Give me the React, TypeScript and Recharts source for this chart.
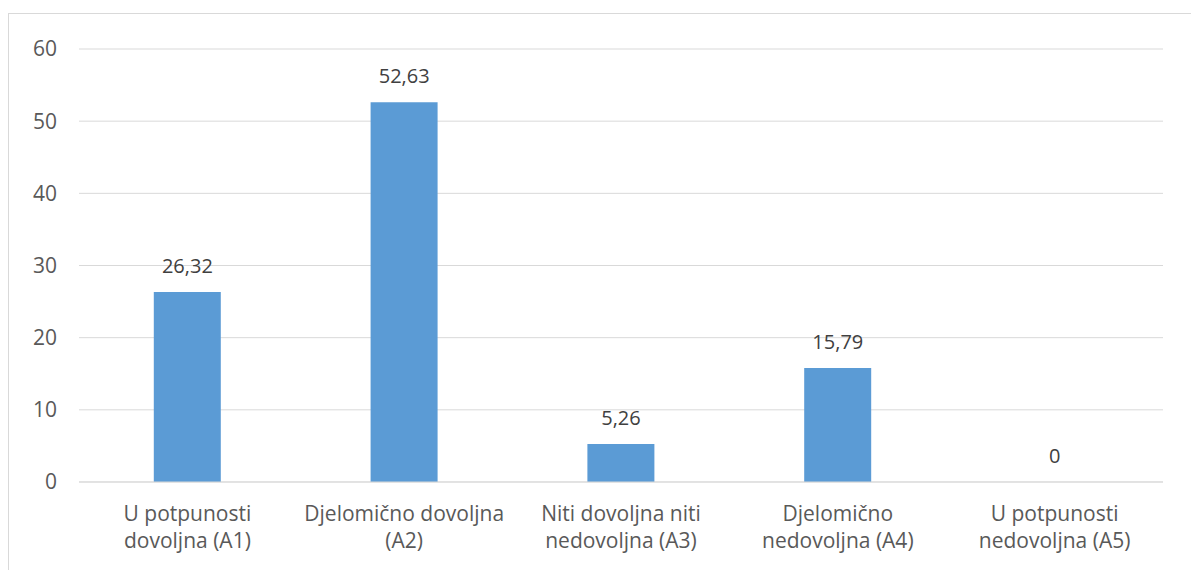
import { ComposedChart, Bar, Line, XAxis, YAxis, CartesianGrid } from "recharts";

// categories split into the two lines shown under each bar
const categories = [
  "U potpunosti|dovoljna (A1)",
  "Djelomično dovoljna|(A2)",
  "Niti dovoljna niti|nedovoljna (A3)",
  "Djelomično|nedovoljna (A4)",
  "U potpunosti|nedovoljna (A5)",
];
const values = [26.32, 52.63, 5.26, 15.79, 0];
const yTicks = [0, 10, 20, 30, 40, 50, 60];

const data = categories.map((c, i) => ({ name: c, value: values[i] }));

const FONT = "'Open Sans', sans-serif";
const TEXT = "#595959";
const GRID = "#d9d9d9";
const FS = 21;

function CategoryTick({ x, y, payload }: any) {
  const lines = String(payload.value).split("|");
  return (
    <text x={x} y={y} textAnchor="middle" fill={TEXT} fontSize={FS} fontFamily={FONT}>
      {lines.map((l, i) => (
        <tspan key={i} x={x} dy={i === 0 ? 31 : 27}>
          {l}
        </tspan>
      ))}
    </text>
  );
}

// value label above each bar (hung on an invisible line so the 0 shows too)
function ValueLabel(props: any) {
  const { x, y, value } = props;
  if (value == null) return null;
  return (
    <text
      x={x}
      y={Number(y) - 19}
      textAnchor="middle"
      fill="#404040"
      fontSize={20}
      fontFamily={FONT}
    >
      {String(value).replace(".", ",")}
    </text>
  );
}

export default function App() {
  return (
    <div style={{ position: "relative", width: 1191, height: 570, overflow: "hidden" }}>
      <style>{`body{margin:0;overflow:hidden}`}</style>
      <div
        style={{
          position: "absolute",
          left: 8,
          top: 13,
          width: 1200,
          height: 600,
          borderTop: `1px solid ${GRID}`,
          borderLeft: `1px solid ${GRID}`,
          background: "#fff",
        }}
      >
        <ComposedChart
          width={1182}
          height={556}
          data={data}
          margin={{ top: 35, right: 28, left: 0, bottom: 18 }}
          barCategoryGap="34.5%"
        >
          <CartesianGrid vertical={false} stroke={GRID} strokeWidth={1} />
          <XAxis
            dataKey="name"
            axisLine={{ stroke: GRID }}
            tickLine={false}
            height={70}
            interval={0}
            tick={<CategoryTick />}
          />
          <YAxis
            domain={[0, 60]}
            ticks={yTicks}
            width={70}
            axisLine={false}
            tickLine={false}
            tickSize={0}
            tickMargin={22}
            tick={{ fill: TEXT, fontSize: FS, fontFamily: FONT }}
          />
          <Bar dataKey="value" fill="#5B9BD5" isAnimationActive={false} />
          <Line
            dataKey="value"
            stroke="none"
            dot={false}
            activeDot={false}
            legendType="none"
            isAnimationActive={false}
            label={<ValueLabel />}
          />
        </ComposedChart>
      </div>
    </div>
  );
}
